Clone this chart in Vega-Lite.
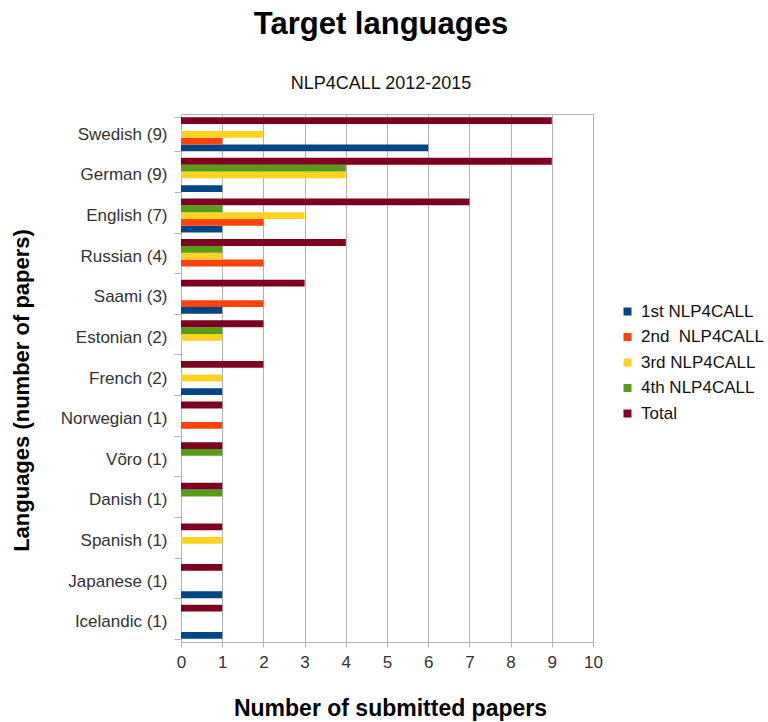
{
  "$schema": "https://vega.github.io/schema/vega-lite/v6.json",
  "width": 412,
  "height": 528,
  "autosize": {"type": "none"},
  "padding": {"left": 181, "top": 114, "right": 175, "bottom": 80},
  "background": "white",
  "config": {
    "font": "Liberation Sans",
    "view": {"stroke": "#b3b3b3", "strokeWidth": 1}
  },
  "title": {
    "text": "Target languages",
    "subtitle": "NLP4CALL 2012-2015",
    "fontSize": 31,
    "fontWeight": "bold",
    "color": "#000000",
    "subtitleFontSize": 18,
    "subtitleColor": "#111111",
    "subtitlePadding": 34,
    "offset": 11,
    "anchor": "middle",
    "frame": "group",
    "dx": -6
  },
  "data": {
    "values": [
      {"language": "Swedish (9)", "series": "1st NLP4CALL", "papers": 6},
      {"language": "Swedish (9)", "series": "2nd\u00a0 NLP4CALL", "papers": 1},
      {"language": "Swedish (9)", "series": "3rd NLP4CALL", "papers": 2},
      {"language": "Swedish (9)", "series": "Total", "papers": 9},
      {"language": "German (9)", "series": "1st NLP4CALL", "papers": 1},
      {"language": "German (9)", "series": "3rd NLP4CALL", "papers": 4},
      {"language": "German (9)", "series": "4th NLP4CALL", "papers": 4},
      {"language": "German (9)", "series": "Total", "papers": 9},
      {"language": "English (7)", "series": "1st NLP4CALL", "papers": 1},
      {"language": "English (7)", "series": "2nd\u00a0 NLP4CALL", "papers": 2},
      {"language": "English (7)", "series": "3rd NLP4CALL", "papers": 3},
      {"language": "English (7)", "series": "4th NLP4CALL", "papers": 1},
      {"language": "English (7)", "series": "Total", "papers": 7},
      {"language": "Russian (4)", "series": "2nd\u00a0 NLP4CALL", "papers": 2},
      {"language": "Russian (4)", "series": "3rd NLP4CALL", "papers": 1},
      {"language": "Russian (4)", "series": "4th NLP4CALL", "papers": 1},
      {"language": "Russian (4)", "series": "Total", "papers": 4},
      {"language": "Saami (3)", "series": "1st NLP4CALL", "papers": 1},
      {"language": "Saami (3)", "series": "2nd\u00a0 NLP4CALL", "papers": 2},
      {"language": "Saami (3)", "series": "Total", "papers": 3},
      {"language": "Estonian (2)", "series": "3rd NLP4CALL", "papers": 1},
      {"language": "Estonian (2)", "series": "4th NLP4CALL", "papers": 1},
      {"language": "Estonian (2)", "series": "Total", "papers": 2},
      {"language": "French (2)", "series": "1st NLP4CALL", "papers": 1},
      {"language": "French (2)", "series": "3rd NLP4CALL", "papers": 1},
      {"language": "French (2)", "series": "Total", "papers": 2},
      {"language": "Norwegian (1)", "series": "2nd\u00a0 NLP4CALL", "papers": 1},
      {"language": "Norwegian (1)", "series": "Total", "papers": 1},
      {"language": "Võro (1)", "series": "4th NLP4CALL", "papers": 1},
      {"language": "Võro (1)", "series": "Total", "papers": 1},
      {"language": "Danish (1)", "series": "4th NLP4CALL", "papers": 1},
      {"language": "Danish (1)", "series": "Total", "papers": 1},
      {"language": "Spanish (1)", "series": "3rd NLP4CALL", "papers": 1},
      {"language": "Spanish (1)", "series": "Total", "papers": 1},
      {"language": "Japanese (1)", "series": "1st NLP4CALL", "papers": 1},
      {"language": "Japanese (1)", "series": "Total", "papers": 1},
      {"language": "Icelandic (1)", "series": "1st NLP4CALL", "papers": 1},
      {"language": "Icelandic (1)", "series": "Total", "papers": 1}
    ]
  },
  "mark": {"type": "bar"},
  "encoding": {
    "y": {
      "field": "language",
      "type": "nominal",
      "sort": ["Swedish (9)", "German (9)", "English (7)", "Russian (4)", "Saami (3)", "Estonian (2)", "French (2)", "Norwegian (1)", "Võro (1)", "Danish (1)", "Spanish (1)", "Japanese (1)", "Icelandic (1)"],
      "scale": {"paddingInner": 0.16, "paddingOuter": 0.08},
      "axis": {
        "title": "Languages (number of papers)",
        "titleFontSize": 22,
        "titleFontWeight": "bold",
        "titleColor": "#000000",
        "titleAngle": 270,
        "titleAlign": "center",
        "titleBaseline": "middle",
        "titleX": -160,
        "titleY": 276,
        "labelFontSize": 17,
        "labelColor": "#333333",
        "labelPadding": 7,
        "tickBand": "extent",
        "tickSize": 7,
        "tickColor": "#b3b3b3",
        "domainColor": "#b3b3b3",
        "grid": false
      }
    },
    "yOffset": {
      "field": "series",
      "type": "nominal",
      "scale": {"domain": ["Total", "4th NLP4CALL", "3rd NLP4CALL", "2nd\u00a0 NLP4CALL", "1st NLP4CALL"], "paddingInner": 0, "paddingOuter": 0}
    },
    "x": {
      "field": "papers",
      "type": "quantitative",
      "scale": {"domain": [0, 10]},
      "axis": {
        "title": "Number of submitted papers",
        "titleFontSize": 23,
        "titleFontWeight": "bold",
        "titleColor": "#000000",
        "titleBaseline": "middle",
        "titleY": 66,
        "titleX": 209,
        "values": [0, 1, 2, 3, 4, 5, 6, 7, 8, 9, 10],
        "labelFontSize": 17,
        "labelColor": "#333333",
        "labelPadding": 7,
        "labelFlush": false,
        "tickSize": 5,
        "tickColor": "#b3b3b3",
        "domainColor": "#b3b3b3",
        "gridColor": "#b3b3b3",
        "grid": true
      }
    },
    "color": {
      "field": "series",
      "type": "nominal",
      "scale": {
        "domain": ["1st NLP4CALL", "2nd\u00a0 NLP4CALL", "3rd NLP4CALL", "4th NLP4CALL", "Total"],
        "range": ["#004586", "#ff420e", "#ffd320", "#579d1c", "#7e0021"]
      },
      "legend": {
        "title": null,
        "orient": "none",
        "legendX": 438,
        "legendY": 189,
        "symbolType": "square",
        "symbolSize": 64,
        "symbolStrokeWidth": 0,
        "labelFontSize": 17,
        "labelColor": "#111111",
        "labelOffset": 5,
        "rowPadding": 7.5
      }
    }
  }
}
